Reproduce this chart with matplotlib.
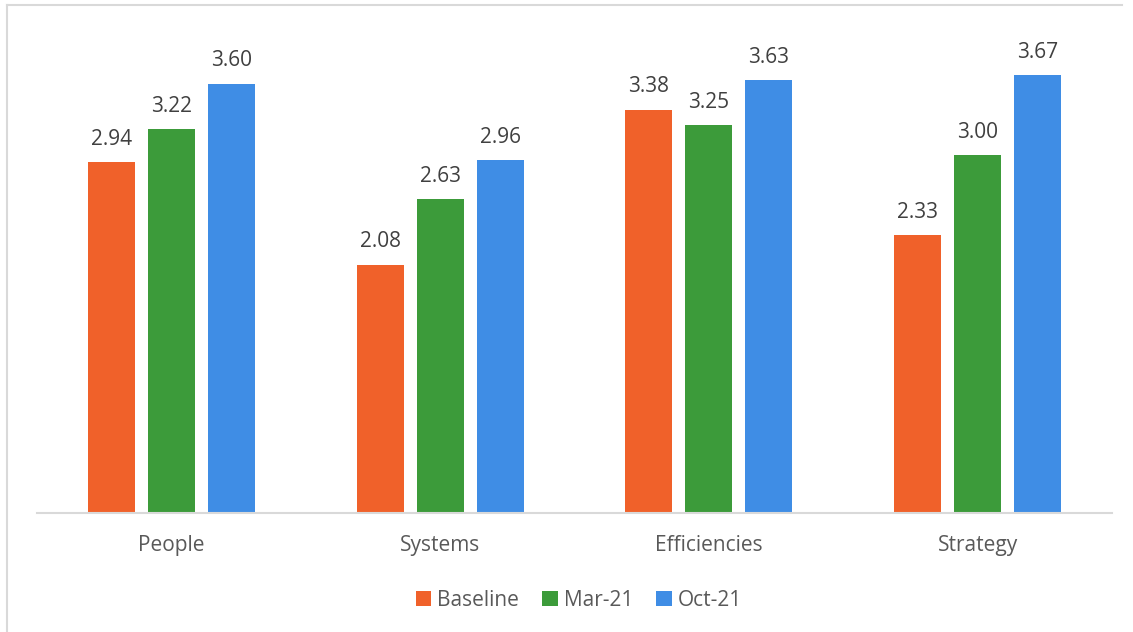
import numpy as np
import matplotlib.pyplot as plt
from matplotlib.lines import Line2D

categories = ['People', 'Systems', 'Efficiencies', 'Strategy']
series_names = ['Baseline', 'Mar-21', 'Oct-21']
baseline = [2.94, 2.08, 3.38, 2.33]
mar21 = [3.22, 2.63, 3.25, 3.00]
oct21 = [3.60, 2.96, 3.63, 3.67]
colors = ['#F0612A', '#3C9B3A', '#3F8DE5']

plt.rcParams['font.family'] = ['Open Sans', 'DejaVu Sans']

W, H = 1133, 632
fig = plt.figure(figsize=(W / 100, H / 100), dpi=100)
ax = fig.add_axes([37 / W, (H - 513) / H, (1112 - 37) / W, (513 - 36) / H])

x = np.arange(len(categories))
bar_w = 0.175
step = 0.223
for i, (vals, name, col) in enumerate(zip([baseline, mar21, oct21], series_names, colors)):
    pos = x + (i - 1) * step
    bars = ax.bar(pos, vals, width=bar_w, color=col, label=name, zorder=2)
    for b, v in zip(bars, vals):
        ax.annotate(f'{v:.2f}', (b.get_x() + b.get_width() / 2, v),
                    xytext=(0, 9), textcoords='offset points',
                    ha='center', va='bottom', fontsize=15, color='#404040')

ax.set_xlim(-0.5, 3.5)
ax.set_ylim(0, 4)
ax.set_yticks([])
ax.set_xticks(x)
ax.set_xticklabels(categories, fontsize=15, color='#595959')
ax.tick_params(axis='x', length=0, pad=16)
for s in ['top', 'right', 'left']:
    ax.spines[s].set_visible(False)
ax.spines['bottom'].set_color('#D9D9D9')
ax.spines['bottom'].set_linewidth(1.5)

leg = fig.legend(loc='center', bbox_to_anchor=(579 / W, 1 - 600 / H), ncol=3,
                 frameon=False, fontsize=15, handlelength=0.75, handleheight=0.75,
                 handletextpad=0.3, columnspacing=1.1)
for t in leg.get_texts():
    t.set_color('#595959')

# chart border (top and left edges visible)
fig.add_artist(Line2D([7 / W, 7 / W], [0, 1 - 5 / H], transform=fig.transFigure,
                      color='#D9D9D9', linewidth=1.5))
fig.add_artist(Line2D([7 / W, 1122 / W], [1 - 5 / H, 1 - 5 / H], transform=fig.transFigure,
                      color='#D9D9D9', linewidth=1.5))

fig.savefig('out.png', dpi=100)
